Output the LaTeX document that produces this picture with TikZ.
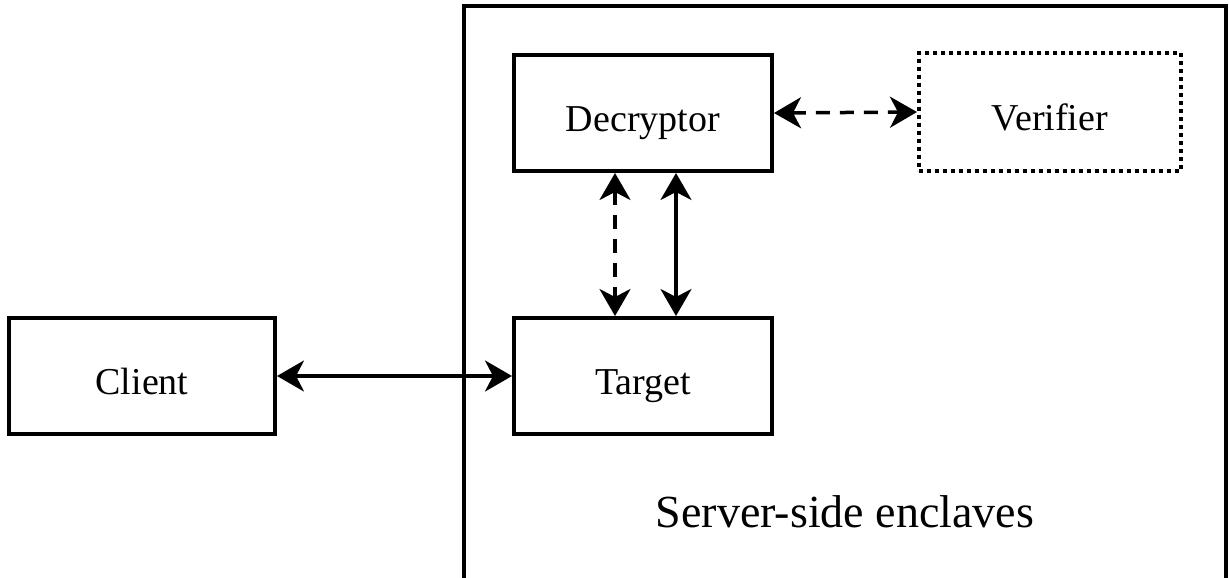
\documentclass[tikz,border=0pt]{standalone}
\usepackage{fontspec}
\setmainfont{Liberation Serif}
\usetikzlibrary{arrows.meta}
\begin{document}
\begin{tikzpicture}[x=1pt,y=-1pt,
  box/.style={draw,line width=4pt,minimum width=258pt,minimum height=116pt,inner sep=0pt,text height=36pt,text depth=0pt,font=\fontsize{38}{44}\selectfont},
  dotbox/.style={box,line width=4pt,dash pattern=on 4pt off 4pt},
  link/.style={line width=3.5pt,{Stealth[length=27pt,width=31pt,inset=8pt]}-{Stealth[length=27pt,width=31pt,inset=8pt]}},
  dlink/.style={link,dash pattern=on 14pt off 10pt}]
\useasboundingbox (0,0) rectangle (1229,578);
\draw[line width=4pt] (464,6) rectangle (1226,579.7);
\node[box] (dec) at (643,113) {Decryptor};
\node[dotbox,minimum width=262pt,minimum height=118pt] (ver) at (1050,112) {Verifier};
\node[box] (tar) at (643,376) {Target};
\node[box,minimum width=266pt] (cli) at (142,376) {Client};
\node[font=\fontsize{46}{52}\selectfont,anchor=base] (lbl) at (845,527) {Server-side enclaves};
\draw[link] (cli.east) -- (tar.west);
\draw[dlink] (dec.east) -- (ver.west);
\draw[dlink] (dec.south -| 615,0) -- (tar.north -| 615,0);
\draw[link] (dec.south -| 676,0) -- (tar.north -| 676,0);
\end{tikzpicture}
\end{document}
